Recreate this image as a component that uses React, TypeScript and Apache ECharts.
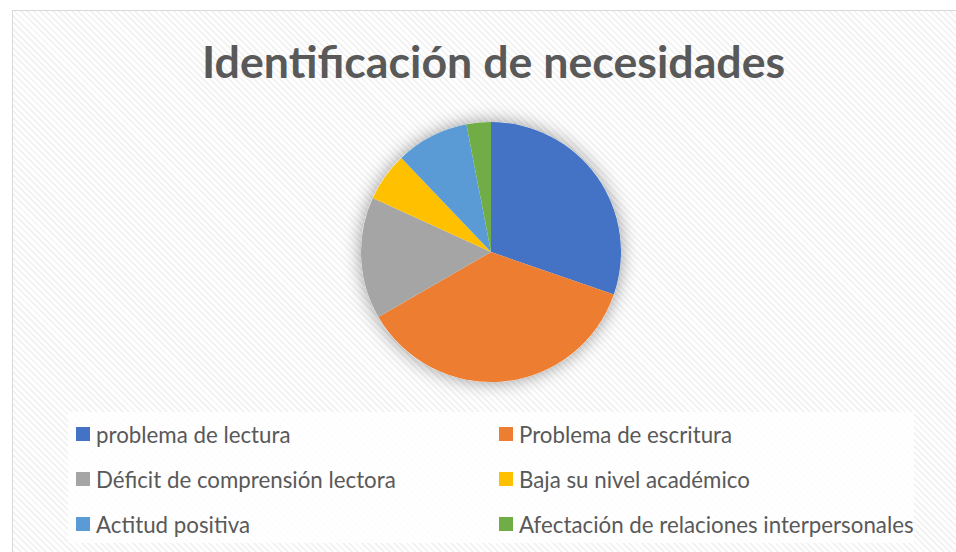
import React, { useEffect, useRef } from "react";
import * as echarts from "echarts";

const categories = [
  "problema de lectura",
  "Problema de escritura",
  "Déficit de comprensión lectora",
  "Baja su nivel académico",
  "Actitud positiva",
  "Afectación de relaciones interpersonales",
];
const values = [10, 12, 5, 2, 3, 1];
const colors = ["#4472C4", "#ED7D31", "#A5A5A5", "#FFC000", "#5B9BD5", "#70AD47"];
const titleText = "Identificación de necesidades";

export default function App() {
  const ref = useRef<HTMLDivElement>(null);
  useEffect(() => {
    if (!ref.current) return;
    const chart = echarts.init(ref.current, null, { renderer: "svg" });
    const data = categories.map((name, i) => ({ name, value: values[i], itemStyle: { color: colors[i] } }));
    const leftNames = categories.filter((_, i) => i % 2 === 0);
    const rightNames = categories.filter((_, i) => i % 2 === 1);
    const legendBase = {
      orient: "vertical" as const,
      top: 418,
      itemWidth: 14,
      itemHeight: 14,
      itemGap: 23,
      icon: "rect",
      selectedMode: false,
      textStyle: { fontFamily: "Lato", fontSize: 22.3, color: "#595959", lineHeight: 20, padding: [0, 0, 0, 1] },
    };
    chart.setOption({
      animation: false,
      backgroundColor: "transparent",
      title: {
        text: titleText,
        left: 197,
        top: 33,
        textStyle: { fontFamily: "Lato", fontWeight: "bold", fontSize: 44.7, color: "#595959" },
      },
      graphic: [
        {
          type: "rect",
          shape: { x: 68, y: 412, width: 846, height: 131 },
          style: { fill: "rgba(255,255,255,0.8)" },
          silent: true,
          z: -1,
        },
      ],
      legend: [
        { ...legendBase, left: 71, data: leftNames },
        { ...legendBase, left: 494, data: rightNames },
      ],
      series: [
        {
          type: "pie",
          center: [491, 252],
          radius: 130,
          silent: true,
          z: 1,
          label: { show: false },
          labelLine: { show: false },
          itemStyle: { color: "#ffffff", shadowBlur: 18, shadowColor: "rgba(0,0,0,0.4)" },
          data: [{ name: "__bg", value: 1 }],
        },
        {
          type: "pie",
          center: [491, 252],
          radius: 130,
          startAngle: 90,
          clockwise: true,
          z: 2,
          label: { show: false },
          labelLine: { show: false },
          itemStyle: { borderWidth: 0 },
          data,
        },
      ],
    });
    return () => chart.dispose();
  }, []);

  return (
    <div style={{ position: "fixed", left: 0, top: 0, width: 956, height: 552, background: "#ffffff", overflow: "hidden" }}>
      <div
        style={{
          position: "absolute",
          left: 12,
          top: 10,
          width: 960,
          height: 560,
          border: "1px solid #d9d9d9",
          background: "repeating-linear-gradient(45deg, #f3f3f3 0px, #f3f3f3 2px, #ffffff 2px, #ffffff 4.5px)",
        }}
      />
      <div ref={ref} style={{ position: "absolute", left: 0, top: 0, width: 956, height: 552 }} />
    </div>
  );
}
